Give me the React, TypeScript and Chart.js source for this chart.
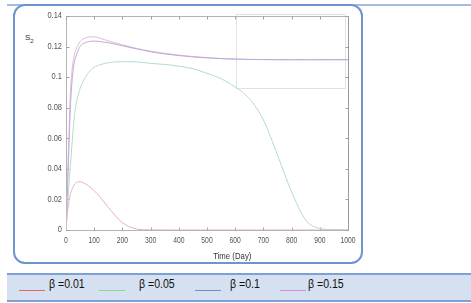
import React, { useEffect, useRef } from "react";
import { Chart, registerables } from "chart.js";

Chart.register(...registerables);

const days = [0, 5, 10, 15, 20, 25, 30, 40, 50, 60, 80, 100, 120, 150, 200, 250, 300, 350, 400, 450, 500, 550, 600, 650, 700, 750, 800, 850, 900, 950, 1000];

const beta001 = [0, 0.011, 0.018, 0.023, 0.026, 0.028, 0.0298, 0.0313, 0.0316, 0.0311, 0.0289, 0.0257, 0.0218, 0.0148, 0.0048, 0.0007, 0.0001, 0, 0, 0, 0, 0, 0, 0, 0, 0, 0, 0, 0, 0, 0];
const beta005 = [0, 0.015, 0.028, 0.041, 0.053, 0.065, 0.075, 0.086, 0.0925, 0.097, 0.103, 0.1065, 0.108, 0.1095, 0.1101, 0.11, 0.109, 0.1083, 0.1072, 0.1055, 0.1025, 0.099, 0.0935, 0.086, 0.072, 0.049, 0.025, 0.0065, 0.001, 0.0002, 0];
const beta01 = [0, 0.025, 0.052, 0.078, 0.094, 0.104, 0.11, 0.116, 0.12, 0.1218, 0.1232, 0.1236, 0.1233, 0.1225, 0.1205, 0.1185, 0.1166, 0.1152, 0.1141, 0.1132, 0.1126, 0.1121, 0.1118, 0.1116, 0.1115, 0.1114, 0.1114, 0.1114, 0.1114, 0.1114, 0.1114];
const beta015 = [0, 0.03, 0.06, 0.088, 0.102, 0.11, 0.115, 0.12, 0.1232, 0.1248, 0.1262, 0.1264, 0.1255, 0.1237, 0.1212, 0.1188, 0.117, 0.1156, 0.1144, 0.1135, 0.1128, 0.1122, 0.1118, 0.1116, 0.1115, 0.1114, 0.1114, 0.1114, 0.1114, 0.1114, 0.1114];

const seriesLabels = ["β =0.01", "β =0.05", "β =0.1", "β =0.15"];
const seriesValues = [beta001, beta005, beta01, beta015];
const lineColors = ["#eab0b4", "#b2dcc6", "#b8acd8", "#e6b6dc"];
const legendColors = ["#e86464", "#9ccf94", "#7a88c2", "#d68ad2"];

const xTicks = [0, 100, 200, 300, 400, 500, 600, 700, 800, 900, 1000];
const yTicks = [0, 0.02, 0.04, 0.06, 0.08, 0.1, 0.12, 0.14];
const xTitle = "Time (Day)";
const xTitleAt = 520; // day at which the title starts

// zoom-box region (days, values)
const insetDays = [603, 989];
const insetValues = [0.0929, 0.1413];

const labelFont = "8.5px 'Liberation Sans', Arial, sans-serif";

const frame = {
  id: "frame",
  beforeDatasetsDraw(chart: any) {
    const { ctx, chartArea, scales } = chart;
    const xs = scales.x;
    const ys = scales.y;
    ctx.save();
    ctx.lineWidth = 1;
    // inset box
    ctx.strokeStyle = "#e2e2e2";
    const x1 = Math.round(xs.getPixelForValue(insetDays[0])) + 0.5;
    const x2 = Math.round(xs.getPixelForValue(insetDays[1])) + 0.5;
    const y1 = Math.round(ys.getPixelForValue(insetValues[1])) + 0.5;
    const y2 = Math.round(ys.getPixelForValue(insetValues[0])) + 0.5;
    ctx.strokeRect(x1, y1, x2 - x1, y2 - y1);
    // frame
    const l = Math.round(chartArea.left) + 0.5;
    const r = Math.round(chartArea.right) + 0.5;
    const t = Math.round(chartArea.top) + 0.5;
    const b = Math.round(chartArea.bottom) + 0.5;
    ctx.strokeStyle = "#b4b4b4";
    ctx.beginPath();
    ctx.moveTo(l, t);
    ctx.lineTo(l, b);
    ctx.lineTo(r, b);
    ctx.moveTo(l, t);
    ctx.lineTo(r, t);
    ctx.stroke();
    ctx.strokeStyle = "#9a9a9a";
    ctx.beginPath();
    ctx.moveTo(r, t);
    ctx.lineTo(r, b);
    ctx.stroke();
    // inner ticks
    ctx.strokeStyle = "#a0a0a0";
    ctx.beginPath();
    for (const v of xTicks) {
      const px = Math.round(xs.getPixelForValue(v)) + 0.5;
      ctx.moveTo(px, b);
      ctx.lineTo(px, b - 3);
      ctx.moveTo(px, t);
      ctx.lineTo(px, t + 3);
    }
    for (const v of yTicks) {
      const py = Math.round(ys.getPixelForValue(v)) + 0.5;
      ctx.moveTo(l, py);
      ctx.lineTo(l + 3, py);
      ctx.moveTo(r, py);
      ctx.lineTo(r - 3, py);
    }
    ctx.stroke();
    // tick labels (condensed)
    ctx.fillStyle = "#555";
    ctx.font = labelFont;
    ctx.textBaseline = "middle";
    ctx.textAlign = "center";
    for (const v of xTicks) {
      const px = xs.getPixelForValue(v);
      ctx.save();
      ctx.translate(px, b + 10);
      ctx.scale(0.8, 1);
      ctx.fillText(String(v), 0, 0);
      ctx.restore();
    }
    ctx.textAlign = "right";
    for (const v of yTicks) {
      const py = ys.getPixelForValue(v);
      ctx.save();
      ctx.translate(l - 4.5, py);
      ctx.scale(0.88, 1);
      ctx.fillText(String(+v.toFixed(2)), 0, 0);
      ctx.restore();
    }
    // axis title
    ctx.fillStyle = "#333";
    ctx.font = "9.5px 'Liberation Sans', Arial, sans-serif";
    ctx.textAlign = "left";
    ctx.save();
    ctx.translate(xs.getPixelForValue(xTitleAt) + 0.5, b + 26);
    ctx.scale(0.82, 1);
    ctx.fillText(xTitle, 0, 0);
    ctx.restore();
    ctx.restore();
  },
};

export default function App() {
  const ref = useRef<HTMLCanvasElement | null>(null);

  useEffect(() => {
    document.body.style.margin = "0";
    if (!ref.current) return;
    const chart = new Chart(ref.current, {
      type: "line",
      data: {
        datasets: seriesValues.map((vals, i) => ({
          label: seriesLabels[i],
          data: days.map((d, j) => ({ x: d, y: vals[j] })),
          borderColor: lineColors[i],
          borderWidth: 1,
          pointRadius: 0,
          fill: false,
          cubicInterpolationMode: "monotone" as const,
        })),
      },
      options: {
        animation: false,
        responsive: false,
        devicePixelRatio: 1,
        layout: { padding: { left: 0, top: 16, right: 123, bottom: 53 } },
        plugins: { legend: { display: false }, tooltip: { enabled: false } },
        scales: {
          x: {
            type: "linear",
            min: 0,
            max: 1000,
            afterFit: (s: any) => {
              s.height = 20;
            },
            grid: { display: false, drawTicks: false },
            border: { display: false },
            ticks: { display: false },
          },
          y: {
            type: "linear",
            min: 0,
            max: 0.14,
            afterFit: (s: any) => {
              s.width = 66;
            },
            grid: { display: false, drawTicks: false },
            border: { display: false },
            ticks: { display: false },
          },
        },
      },
      plugins: [frame],
    });
    return () => chart.destroy();
  }, []);

  const legendLineX = [19, 99, 195, 280];
  const legendTextX = [49, 139, 230, 308];

  return (
    <div style={{ position: "fixed", left: 0, top: 0, width: 471, height: 303, background: "#fff", overflow: "hidden" }}>
      <div style={{ position: "absolute", left: 7, top: 4, width: 464, height: 2, background: "#a3bde2" }} />
      <div
        style={{
          position: "absolute",
          left: 13,
          top: 4,
          width: 350,
          height: 260,
          boxSizing: "border-box",
          border: "2px solid #6f95d0",
          borderRadius: 12,
        }}
      />
      <div
        style={{
          position: "absolute",
          left: 7,
          top: 273,
          width: 464,
          height: 29,
          boxSizing: "border-box",
          background: "#d5e0f0",
          borderTop: "2px solid #7da0d5",
          borderBottom: "2px solid #7da0d5",
        }}
      />
      {seriesLabels.map((lab, i) => (
        <React.Fragment key={lab}>
          <div
            style={{
              position: "absolute",
              left: legendLineX[i],
              top: 290,
              width: 26,
              height: 1,
              background: legendColors[i],
            }}
          />
          <div
            style={{
              position: "absolute",
              left: legendTextX[i],
              top: 277,
              fontFamily: "'Liberation Sans', sans-serif",
              fontSize: 12,
              lineHeight: "14px",
              color: "#111",
              whiteSpace: "nowrap",
              transform: "scaleX(0.88)",
              transformOrigin: "left center",
            }}
          >
            {lab}
          </div>
        </React.Fragment>
      ))}
      <div
        style={{
          position: "absolute",
          left: 25,
          top: 32,
          fontFamily: "'Liberation Sans', sans-serif",
          fontSize: 8,
          lineHeight: "11px",
          color: "#333",
        }}
      >
        S<sub style={{ fontSize: 6 }}>2</sub>
      </div>
      <canvas ref={ref} width={471} height={303} style={{ position: "absolute", left: 0, top: 0, width: 471, height: 303 }} />
    </div>
  );
}
